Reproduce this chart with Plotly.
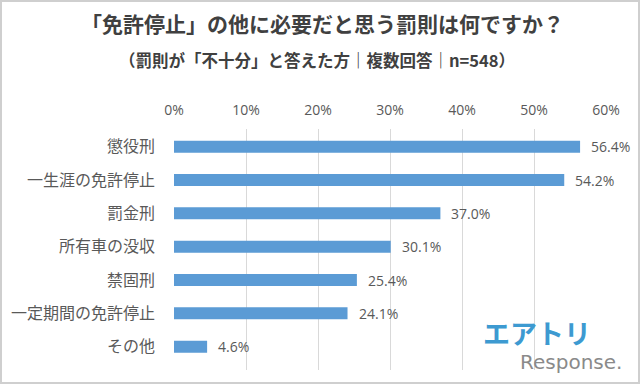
import plotly.graph_objects as go

categories = ["懲役刑", "一生涯の免許停止", "罰金刑", "所有車の没収", "禁固刑", "一定期間の免許停止", "その他"]
values = [56.4, 54.2, 37.0, 30.1, 25.4, 24.1, 4.6]
tick_vals = [0, 10, 20, 30, 40, 50, 60]
tick_text = ["0%", "10%", "20%", "30%", "40%", "50%", "60%"]

W, H = 640, 384
ml, mr, mt, mb = 174, 34, 129, 14
FONT = "Noto Sans CJK JP"
NUMFONT = "Open Sans"

fig = go.Figure(go.Bar(
    x=values, y=categories, orientation="h",
    marker=dict(color="#5b9bd5", line=dict(width=0)),
    width=0.36, hoverinfo="skip",
))

px = lambda p: (p - ml) / (W - ml - mr)
py = lambda p: (H - mb - p) / (H - mt - mb)

annotations = [
    dict(text=f"{v:.1f}%", x=v, y=c, xref="x", yref="y", showarrow=False,
         xanchor="left", yanchor="middle", xshift=9,
         font=dict(size=14, color="#595959", family=NUMFONT))
    for c, v in zip(categories, values)
]
annotations += [
    dict(text="「免許停止」の他に必要だと思う罰則は何ですか？", x=px(322), y=py(23),
         xref="paper", yref="paper", showarrow=False, xanchor="center", yanchor="middle",
         font=dict(size=21, color="#404040", family=FONT, weight="bold")),
    dict(text="（罰則が「不十分」と答えた方｜複数回答｜n=548）", x=px(317), y=py(60),
         xref="paper", yref="paper", showarrow=False, xanchor="center", yanchor="middle",
         font=dict(size=16.5, color="#404040", family=FONT, weight="bold")),
    dict(text="エアトリ", x=px(537), y=py(332),
         xref="paper", yref="paper", showarrow=False, xanchor="center", yanchor="middle",
         font=dict(size=27, color="#3d9ad1", family=FONT, weight="bold")),
    dict(text="Response.", x=px(571), y=py(362),
         xref="paper", yref="paper", showarrow=False, xanchor="center", yanchor="middle",
         font=dict(size=20, color="#8a8a8a", family="DejaVu Sans")),
]

fig.update_layout(
    width=W, height=H, margin=dict(l=ml, r=mr, t=mt, b=mb),
    paper_bgcolor="white", plot_bgcolor="white", showlegend=False,
    font=dict(family=FONT, color="#595959"),
    xaxis=dict(side="top", range=[0, 60], tickvals=tick_vals, ticktext=tick_text,
               showgrid=True, gridcolor="#d9d9d9", gridwidth=1, zeroline=False,
               showline=False, ticks="", tickfont=dict(size=14, color="#595959", family=NUMFONT),
               ticklabelstandoff=10, fixedrange=True),
    yaxis=dict(type="category", range=[6.7, -0.53], showgrid=False, zeroline=False,
               ticks="", tickfont=dict(size=16, color="#595959", family=FONT),
               ticklabelstandoff=18, fixedrange=True),
    annotations=annotations,
    shapes=[dict(type="rect", xref="paper", yref="paper",
                 x0=px(1), x1=px(W - 1), y0=py(H - 1), y1=py(1),
                 line=dict(color="#cfcfcf", width=2), fillcolor="rgba(0,0,0,0)", layer="below")],
)

fig.write_html("out.html", config={"displayModeBar": False},
               post_script="document.body.style.margin='0';document.body.style.overflow='hidden';")
